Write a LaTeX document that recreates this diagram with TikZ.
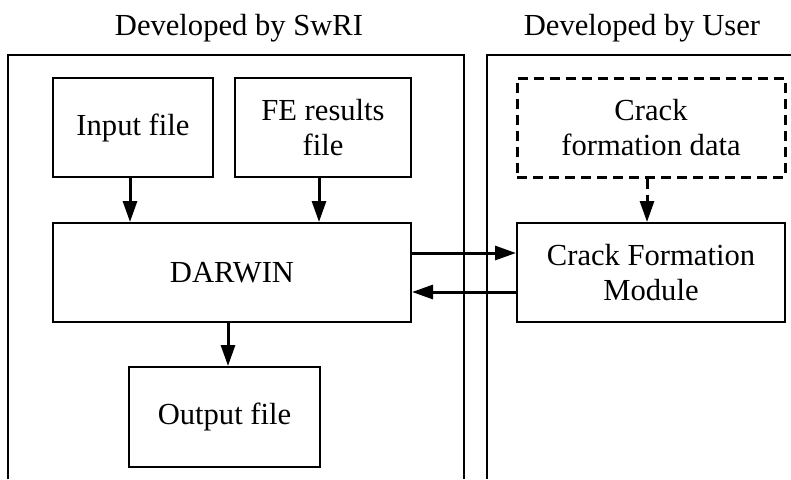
\documentclass[tikz,border=0pt]{standalone}
\usepackage{fontspec}
\setmainfont{Liberation Serif}
\usetikzlibrary{arrows.meta}
\begin{document}
\begin{tikzpicture}[x=0.5pt,y=-0.5pt,
  box/.style={draw, line width=1pt, rectangle, align=center, inner sep=0pt,
    font=\fontsize{15.3pt}{17.5pt}\selectfont},
  dbox/.style={box, line width=1.5pt, dash pattern=on 5pt off 3pt},
  arr/.style={line width=1.5pt, -{Triangle[length=10.5pt,width=7pt]}},
  darr/.style={arr, dash pattern=on 5pt off 3pt},
  panel/.style={line width=1pt},
  title/.style={font=\fontsize{15.3pt}{17.5pt}\selectfont, inner sep=0pt, anchor=base}]
\useasboundingbox (0,0) rectangle (791,479);
% panels
\draw[panel] (8,479) -- (8,55) -- (464,55) -- (464,479);
\draw[panel] (487,479) -- (487,55) -- (791,55);
\node[title] (t1) at (239,35) {Developed by SwRI};
\node[title] (t2) at (642,35) {Developed by User};
% boxes
\node[box, minimum width=80pt, minimum height=49.5pt] (in) at (133,127.5) {Input file};
\node[box, minimum width=88pt, minimum height=49.5pt] (fe) at (323,127.5) {FE results\\file};
\node[box, minimum width=179pt, minimum height=49.5pt] (dar) at (232,272.5) {DARWIN};
\node[box, minimum width=95.5pt, minimum height=50pt] (out) at (224.5,417) {Output file};
\node[dbox, minimum width=134pt, minimum height=49.5pt] (cfd) at (651,127.5) {Crack\\formation data};
\node[box, minimum width=134pt, minimum height=49.5pt] (mod) at (651,272.5) {Crack Formation\\Module};
% connectors
\draw[arr] ([xshift=-1.5pt]in.south) -- ([xshift=-1.5pt]in.south |- dar.north);
\draw[arr] ([xshift=-2pt]fe.south) -- ([xshift=-2pt]fe.south |- dar.north);
\draw[darr] ([xshift=-2pt]cfd.south) -- ([xshift=-2pt]cfd.south |- mod.north);
\draw[arr] ([xshift=1.75pt]out.north |- dar.south) -- ([xshift=1.75pt]out.north);
\draw[arr] ([yshift=9.75pt]dar.east) -- ([yshift=9.75pt]mod.west);
\draw[arr] ([yshift=-9.75pt]mod.west) -- ([yshift=-9.75pt]dar.east);
\end{tikzpicture}
\end{document}
